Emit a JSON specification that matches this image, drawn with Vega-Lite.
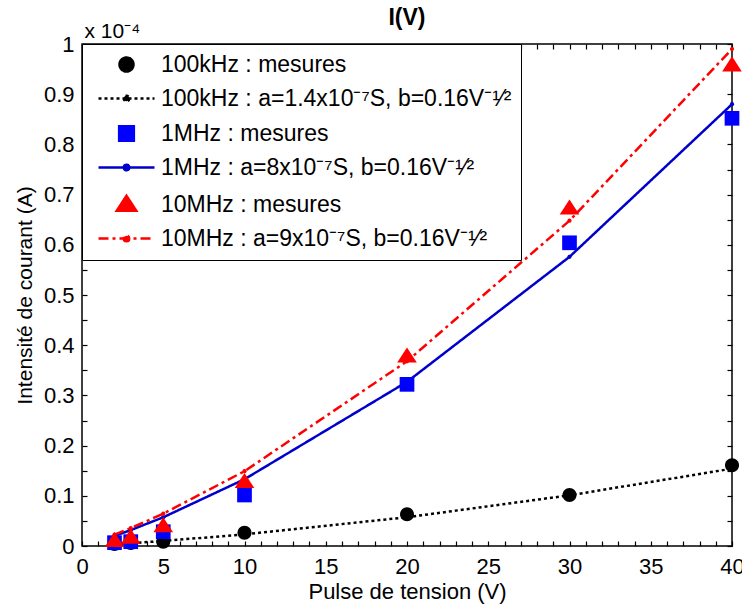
{
  "$schema": "https://vega.github.io/schema/vega-lite/v6.json",
  "width": 650,
  "height": 502,
  "autosize": {"type": "none"},
  "padding": {"left": 82, "top": 44, "right": 10, "bottom": 64},
  "background": "white",
  "title": {"text": "I(V)", "fontSize": 23, "fontWeight": "bold", "font": "Liberation Sans", "anchor": "middle", "color": "black", "offset": -10},
  "data": {
    "values": [
      {"V": 2, "I": 0.004, "series": "100kHz : mesures", "kind": "mes"},
      {"V": 3, "I": 0.006, "series": "100kHz : mesures", "kind": "mes"},
      {"V": 5, "I": 0.0085, "series": "100kHz : mesures", "kind": "mes"},
      {"V": 10, "I": 0.0265, "series": "100kHz : mesures", "kind": "mes"},
      {"V": 20, "I": 0.063, "series": "100kHz : mesures", "kind": "mes"},
      {"V": 30, "I": 0.1016, "series": "100kHz : mesures", "kind": "mes"},
      {"V": 40, "I": 0.161, "series": "100kHz : mesures", "kind": "mes"},
      {"V": 2, "I": 0.0035, "series": "100kHz : a=1.4x10⁻⁷S, b=0.16V⁻¹⁄²", "kind": "fit"},
      {"V": 3, "I": 0.0055, "series": "100kHz : a=1.4x10⁻⁷S, b=0.16V⁻¹⁄²", "kind": "fit"},
      {"V": 5, "I": 0.010, "series": "100kHz : a=1.4x10⁻⁷S, b=0.16V⁻¹⁄²", "kind": "fit"},
      {"V": 10, "I": 0.0232, "series": "100kHz : a=1.4x10⁻⁷S, b=0.16V⁻¹⁄²", "kind": "fit"},
      {"V": 20, "I": 0.0573, "series": "100kHz : a=1.4x10⁻⁷S, b=0.16V⁻¹⁄²", "kind": "fit"},
      {"V": 30, "I": 0.101, "series": "100kHz : a=1.4x10⁻⁷S, b=0.16V⁻¹⁄²", "kind": "fit"},
      {"V": 40, "I": 0.154, "series": "100kHz : a=1.4x10⁻⁷S, b=0.16V⁻¹⁄²", "kind": "fit"},
      {"V": 2, "I": 0.0066, "series": "1MHz : mesures", "kind": "mes"},
      {"V": 3, "I": 0.0086, "series": "1MHz : mesures", "kind": "mes"},
      {"V": 5, "I": 0.0285, "series": "1MHz : mesures", "kind": "mes"},
      {"V": 10, "I": 0.1016, "series": "1MHz : mesures", "kind": "mes"},
      {"V": 20, "I": 0.322, "series": "1MHz : mesures", "kind": "mes"},
      {"V": 30, "I": 0.604, "series": "1MHz : mesures", "kind": "mes"},
      {"V": 40, "I": 0.852, "series": "1MHz : mesures", "kind": "mes"},
      {"V": 2, "I": 0.020, "series": "1MHz : a=8x10⁻⁷S, b=0.16V⁻¹⁄²", "kind": "fit"},
      {"V": 3, "I": 0.0317, "series": "1MHz : a=8x10⁻⁷S, b=0.16V⁻¹⁄²", "kind": "fit"},
      {"V": 5, "I": 0.0572, "series": "1MHz : a=8x10⁻⁷S, b=0.16V⁻¹⁄²", "kind": "fit"},
      {"V": 10, "I": 0.133, "series": "1MHz : a=8x10⁻⁷S, b=0.16V⁻¹⁄²", "kind": "fit"},
      {"V": 20, "I": 0.327, "series": "1MHz : a=8x10⁻⁷S, b=0.16V⁻¹⁄²", "kind": "fit"},
      {"V": 30, "I": 0.576, "series": "1MHz : a=8x10⁻⁷S, b=0.16V⁻¹⁄²", "kind": "fit"},
      {"V": 40, "I": 0.880, "series": "1MHz : a=8x10⁻⁷S, b=0.16V⁻¹⁄²", "kind": "fit"},
      {"V": 2, "I": 0.0106, "series": "10MHz : mesures", "kind": "mes"},
      {"V": 3, "I": 0.017, "series": "10MHz : mesures", "kind": "mes"},
      {"V": 5, "I": 0.040, "series": "10MHz : mesures", "kind": "mes"},
      {"V": 10, "I": 0.128, "series": "10MHz : mesures", "kind": "mes"},
      {"V": 20, "I": 0.378, "series": "10MHz : mesures", "kind": "mes"},
      {"V": 30, "I": 0.673, "series": "10MHz : mesures", "kind": "mes"},
      {"V": 40, "I": 0.958, "series": "10MHz : mesures", "kind": "mes"},
      {"V": 2, "I": 0.0226, "series": "10MHz : a=9x10⁻⁷S, b=0.16V⁻¹⁄²", "kind": "fit"},
      {"V": 3, "I": 0.0356, "series": "10MHz : a=9x10⁻⁷S, b=0.16V⁻¹⁄²", "kind": "fit"},
      {"V": 5, "I": 0.0644, "series": "10MHz : a=9x10⁻⁷S, b=0.16V⁻¹⁄²", "kind": "fit"},
      {"V": 10, "I": 0.149, "series": "10MHz : a=9x10⁻⁷S, b=0.16V⁻¹⁄²", "kind": "fit"},
      {"V": 20, "I": 0.368, "series": "10MHz : a=9x10⁻⁷S, b=0.16V⁻¹⁄²", "kind": "fit"},
      {"V": 30, "I": 0.648, "series": "10MHz : a=9x10⁻⁷S, b=0.16V⁻¹⁄²", "kind": "fit"},
      {"V": 40, "I": 0.990, "series": "10MHz : a=9x10⁻⁷S, b=0.16V⁻¹⁄²", "kind": "fit"}
    ]
  },
  "layer": [
    {
      "transform": [{"filter": "datum.kind === 'fit'"}],
      "mark": {"type": "line", "strokeWidth": 2.5, "point": {"filled": true, "size": 18}},
      "encoding": {
        "x": {"field": "V", "type": "quantitative", "scale": {"domain": [0, 40], "nice": false},
          "axis": {"orient": "bottom", "values": [0,1,2,3,4,5,6,7,8,9,10,11,12,13,14,15,16,17,18,19,20,21,22,23,24,25,26,27,28,29,30,31,32,33,34,35,36,37,38,39,40],
            "format": "d", "labelExpr": "datum.value % 5 === 0 ? datum.label : ''",
            "offset": -5, "tickSize": 5, "labelPadding": 10, "labelOverlap": false, "labelFlush": false, "labelBound": false,
            "title": "Pulse de tension (V)", "titleFontSize": 22, "titlePadding": 4}},
        "y": {"field": "I", "type": "quantitative", "scale": {"domain": [0, 1], "nice": false},
          "axis": {"orient": "left", "values": [0,0.05,0.1,0.15,0.2,0.25,0.3,0.35,0.4,0.45,0.5,0.55,0.6,0.65,0.7,0.75,0.8,0.85,0.9,0.95,1],
            "format": ".1~f", "labelExpr": "round(datum.value*100) % 10 === 0 ? datum.label : ''",
            "offset": -5, "tickSize": 5, "labelPadding": 8, "labelOverlap": false, "labelFlush": false, "labelBound": false,
            "title": "Intensité de courant (A)", "titleFontSize": 21, "titlePadding": 8}},
        "color": {"field": "series", "type": "nominal",
          "scale": {"domain": ["100kHz : mesures", "100kHz : a=1.4x10⁻⁷S, b=0.16V⁻¹⁄²", "1MHz : mesures", "1MHz : a=8x10⁻⁷S, b=0.16V⁻¹⁄²", "10MHz : mesures", "10MHz : a=9x10⁻⁷S, b=0.16V⁻¹⁄²"],
            "range": ["#000000", "#000000", "#0000ff", "#0000cc", "#ff0000", "#ff0000"]}},
        "strokeDash": {"field": "series", "type": "nominal",
          "scale": {"domain": ["100kHz : mesures", "100kHz : a=1.4x10⁻⁷S, b=0.16V⁻¹⁄²", "1MHz : mesures", "1MHz : a=8x10⁻⁷S, b=0.16V⁻¹⁄²", "10MHz : mesures", "10MHz : a=9x10⁻⁷S, b=0.16V⁻¹⁄²"],
            "range": [[1, 0], [3, 3], [1, 0], [1, 0], [1, 0], [10, 4, 3, 4]]}}
      }
    },
    {
      "transform": [{"filter": "datum.kind === 'mes'"}],
      "mark": {"type": "point", "filled": true, "size": 196, "opacity": 1},
      "encoding": {
        "x": {"field": "V", "type": "quantitative", "scale": {"domain": [0, 40], "nice": false},
          "axis": {"orient": "top", "values": [0,1,2,3,4,5,6,7,8,9,10,11,12,13,14,15,16,17,18,19,20,21,22,23,24,25,26,27,28,29,30,31,32,33,34,35,36,37,38,39,40],
            "labels": false, "offset": -5, "tickSize": 5,
            "title": "x 10⁻⁴", "titleFontSize": 21, "titleX": 2, "titleY": -12, "titleAlign": "left", "titleAnchor": "start", "titleBaseline": "alphabetic"}},
        "y": {"field": "I", "type": "quantitative", "scale": {"domain": [0, 1], "nice": false},
          "axis": {"orient": "right", "values": [0,0.05,0.1,0.15,0.2,0.25,0.3,0.35,0.4,0.45,0.5,0.55,0.6,0.65,0.7,0.75,0.8,0.85,0.9,0.95,1],
            "labels": false, "offset": -5, "tickSize": 5, "title": null}},
        "color": {"field": "series", "type": "nominal",
          "scale": {"domain": ["100kHz : mesures", "100kHz : a=1.4x10⁻⁷S, b=0.16V⁻¹⁄²", "1MHz : mesures", "1MHz : a=8x10⁻⁷S, b=0.16V⁻¹⁄²", "10MHz : mesures", "10MHz : a=9x10⁻⁷S, b=0.16V⁻¹⁄²"],
            "range": ["#000000", "#000000", "#0000ff", "#0000cc", "#ff0000", "#ff0000"]}},
        "shape": {"field": "series", "type": "nominal",
          "scale": {"domain": ["100kHz : mesures", "100kHz : a=1.4x10⁻⁷S, b=0.16V⁻¹⁄²", "1MHz : mesures", "1MHz : a=8x10⁻⁷S, b=0.16V⁻¹⁄²", "10MHz : mesures", "10MHz : a=9x10⁻⁷S, b=0.16V⁻¹⁄²"],
            "range": ["M1,0A1,1,0,1,1,-1,0A1,1,0,1,1,1,0Z", "M-4,0H4M0.4,0A0.4,0.4,0,1,1,-0.4,0A0.4,0.4,0,1,1,0.4,0Z", "M-1.05,-1.05H1.05V1.05H-1.05Z", "M-4,0H4M0.4,0A0.4,0.4,0,1,1,-0.4,0A0.4,0.4,0,1,1,0.4,0Z", "M0,-1.25L1.4,0.9L-1.4,0.9Z", "M-4,0H4M0.4,0A0.4,0.4,0,1,1,-0.4,0A0.4,0.4,0,1,1,0.4,0Z"]}}
      }
    }
  ],
  "config": {
    "font": "Liberation Sans",
    "view": {"stroke": "black", "strokeWidth": 1.5},
    "axis": {"labelFont": "Liberation Sans", "labelFontSize": 22, "titleFont": "Liberation Sans", "titleFontSize": 22, "titleFontWeight": "normal",
      "labelColor": "black", "titleColor": "black", "domain": false, "tickColor": "black", "tickWidth": 1.2, "grid": false},
    "legend": {"title": null, "orient": "top-left", "offset": 0, "padding": 9, "strokeColor": "black", "fillColor": "white",
      "symbolSize": 196, "symbolOffset": 24, "labelOffset": 23, "rowPadding": 10, "labelFontSize": 23, "labelFont": "Liberation Sans",
      "labelLimit": 1000, "labelColor": "black", "symbolStrokeWidth": 2.5,
      "symbolType": "circle"},
    "mark": {"strokeCap": "butt"}
  },
  "resolve": {"legend": {"color": "shared", "shape": "shared", "strokeDash": "shared"}}
}
